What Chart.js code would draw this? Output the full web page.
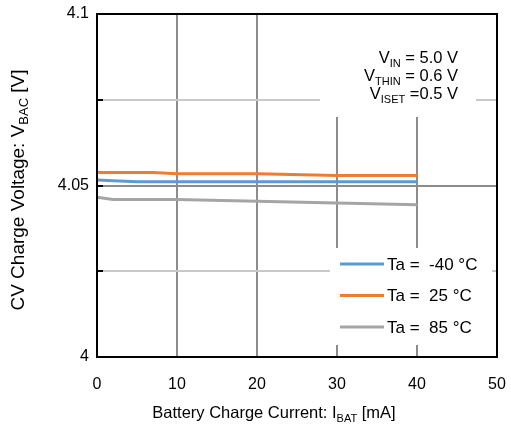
<!DOCTYPE html>
<html>
<head>
<meta charset="utf-8">
<script src="https://cdn.jsdelivr.net/npm/chart.js@4"></script>
<style>
  html, body { margin: 0; padding: 0; background: #fff; }
  #wrap { width: 511px; height: 429px; }
</style>
</head>
<body>
<div id="wrap"><canvas id="chart" width="511" height="429"></canvas></div>
<script>
'use strict';

// 데이터
const currents = [0, 2, 5, 7, 10, 20, 30, 40];             // mA
const vMinus40 = [4.0516, 4.0514, 4.0511, 4.0511, 4.0511, 4.0511, 4.0511, 4.0511];
const v25 = [4.0538, 4.0538, 4.0538, 4.0538, 4.0534, 4.0534, 4.0529, 4.0529];
const v85 = [4.0466, 4.0459, 4.0459, 4.0459, 4.0459, 4.0454, 4.0449, 4.0444];
const seriesLabels = ['Ta =  -40 °C', 'Ta =  25 °C', 'Ta =  85 °C'];
const yTicks = [4, 4.025, 4.05, 4.075, 4.1];
const yTickLabels = ['4', '', '4.05', '', '4.1'];
const xTicks = [0, 10, 20, 30, 40, 50];

const colors = {
    blue: '#5B9BD5',
    orange: '#ED7D31',
    gray: '#A5A5A5',
    gridDark: '#8C8C8C',
    gridLight: '#C9C9C9'
};
const FONT = '"Liberation Sans", Arial, sans-serif';

function toPoints(ys) {
    return currents.map((x, i) => ({ x: x, y: ys[i] }));
}

// 아래첨자 텍스트 그리기
function drawRich(ctx, parts, x, y, size, align) {
    const subSize = Math.round(size * 0.66);
    let width = 0;
    parts.forEach(p => {
        ctx.font = (p.sub ? subSize : size) + 'px ' + FONT;
        width += ctx.measureText(p.t).width;
    });
    let cx = align === 'right' ? x - width : align === 'center' ? x - width / 2 : x;
    ctx.textAlign = 'left';
    ctx.textBaseline = 'alphabetic';
    parts.forEach(p => {
        ctx.font = (p.sub ? subSize : size) + 'px ' + FONT;
        ctx.fillText(p.t, cx, p.sub ? y + Math.round(size * 0.22) : y);
        cx += ctx.measureText(p.t).width;
    });
}

const decorPlugin = {
    id: 'decor',
    afterDatasetsDraw(chart) {
        const ctx = chart.ctx;
        const a = chart.chartArea;
        const ys = chart.scales.y;
        ctx.save();

        // 조건 텍스트 박스
        ctx.fillStyle = '#fff';
        ctx.fillRect(320, a.top + 1, 156, 102);
        ctx.fillStyle = '#000';
        drawRich(ctx, [{ t: 'V' }, { t: 'IN', sub: true }, { t: ' = 5.0 V' }], 458, 63, 16.5, 'right');
        drawRich(ctx, [{ t: 'V' }, { t: 'THIN', sub: true }, { t: ' = 0.6 V' }], 458, 81, 16.5, 'right');
        drawRich(ctx, [{ t: 'V' }, { t: 'ISET', sub: true }, { t: ' =0.5 V' }], 458, 99, 16.5, 'right');

        // 범례
        ctx.fillStyle = '#fff';
        ctx.fillRect(330, 248, 162, 97);
        chart.data.datasets.forEach((ds, i) => {
            const ly = 264 + i * 31.5;
            ctx.strokeStyle = ds.borderColor;
            ctx.lineWidth = 3;
            ctx.beginPath();
            ctx.moveTo(340, ly);
            ctx.lineTo(384, ly);
            ctx.stroke();
            ctx.fillStyle = '#000';
            ctx.font = '17px ' + FONT;
            ctx.textAlign = 'left';
            ctx.textBaseline = 'middle';
            ctx.fillText(ds.label, 387, ly + 1);
        });

        // 안쪽 눈금
        ctx.strokeStyle = '#000';
        ctx.lineWidth = 2;
        yTicks.forEach(v => {
            const py = Math.round(ys.getPixelForValue(v));
            ctx.beginPath();
            ctx.moveTo(a.left, py);
            ctx.lineTo(a.left + 6, py);
            ctx.stroke();
        });

        // 테두리
        ctx.strokeRect(a.left, a.top, a.right - a.left, a.bottom - a.top);

        // 축 제목
        ctx.fillStyle = '#000';
        drawRich(ctx, [{ t: 'Battery Charge Current: I' }, { t: 'BAT', sub: true }, { t: ' [mA]' }],
            274, 418, 16.5, 'center');
        ctx.translate(24, 190);
        ctx.rotate(-Math.PI / 2);
        drawRich(ctx, [{ t: 'CV Charge Voltage: V' }, { t: 'BAC', sub: true }, { t: ' [V]' }],
            0, 0, 19, 'center');
        ctx.restore();
    }
};

new Chart(document.getElementById('chart'), {
    type: 'scatter',
    data: {
        datasets: [
            { label: seriesLabels[0], data: toPoints(vMinus40), borderColor: colors.blue, backgroundColor: colors.blue },
            { label: seriesLabels[1], data: toPoints(v25), borderColor: colors.orange, backgroundColor: colors.orange },
            { label: seriesLabels[2], data: toPoints(v85), borderColor: colors.gray, backgroundColor: colors.gray }
        ].map(ds => Object.assign(ds, {
            showLine: true,
            borderWidth: 3,
            pointRadius: 0,
            tension: 0,
            clip: false
        }))
    },
    options: {
        responsive: false,
        animation: false,
        layout: { padding: { left: 0, right: 14, top: 14, bottom: 0 } },
        plugins: {
            legend: { display: false },
            tooltip: { enabled: false }
        },
        scales: {
            x: {
                type: 'linear',
                min: 0,
                max: 50,
                afterBuildTicks: axis => { axis.ticks = xTicks.map(v => ({ value: v })); },
                afterFit: axis => {
                    axis.height = 72;
                    axis.paddingLeft = 0;
                    axis.paddingRight = 0;
                },
                border: { display: false },
                grid: {
                    drawTicks: false,
                    color: ctx => (ctx.tick && (ctx.tick.value === 0 || ctx.tick.value === 50)) ? 'rgba(0,0,0,0)' : colors.gridDark,
                    lineWidth: 2
                },
                ticks: {
                    padding: 18,
                    color: '#000',
                    font: { family: FONT, size: 16 }
                }
            },
            y: {
                type: 'linear',
                min: 4,
                max: 4.1,
                afterBuildTicks: axis => { axis.ticks = yTicks.map(v => ({ value: v })); },
                afterFit: axis => {
                    axis.width = 97;
                    axis.paddingTop = 0;
                    axis.paddingBottom = 0;
                },
                border: { display: false },
                grid: {
                    drawTicks: false,
                    color: ctx => {
                        if (!ctx.tick) return 'rgba(0,0,0,0)';
                        const v = Math.round(ctx.tick.value * 1000);
                        if (v === 4050) return colors.gridDark;
                        if (v === 4025 || v === 4075) return colors.gridLight;
                        return 'rgba(0,0,0,0)';
                    },
                    lineWidth: 2
                },
                ticks: {
                    padding: 8,
                    color: '#000',
                    font: { family: FONT, size: 16 },
                    callback: (value, index) => yTickLabels[index]
                }
            }
        }
    },
    plugins: [decorPlugin]
});
</script>
</body>
</html>
